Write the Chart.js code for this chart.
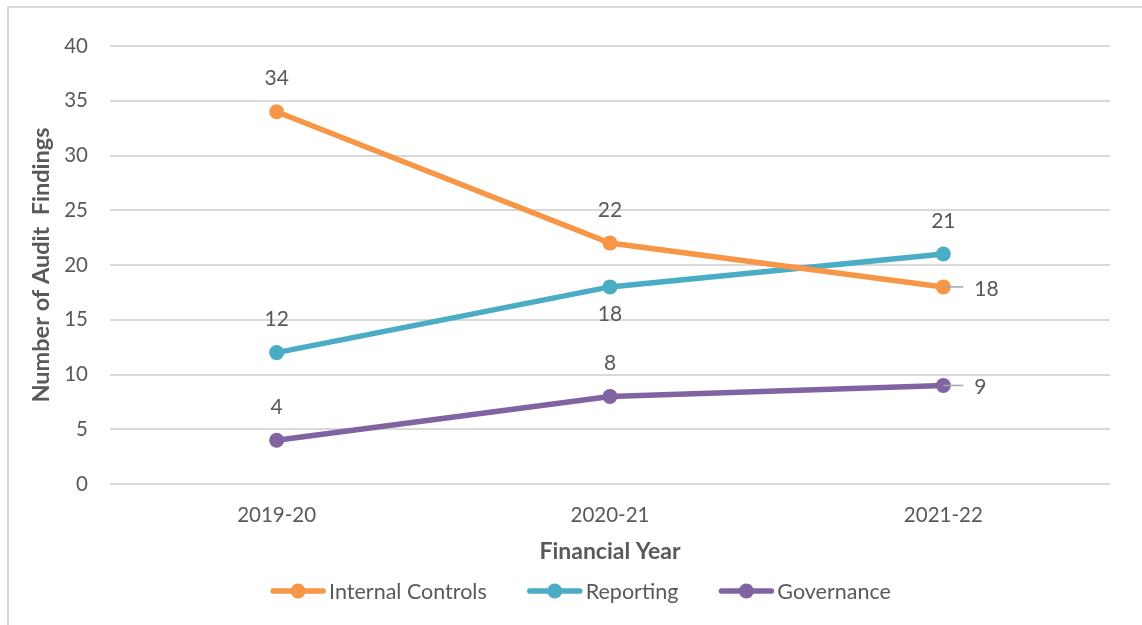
<!DOCTYPE html>
<html>
<head>
<meta charset="utf-8">
<script src="https://cdn.jsdelivr.net/npm/chart.js@4.4.1/dist/chart.umd.min.js"></script>
<style>
  html, body { margin:0; padding:0; background:#fff; overflow:hidden; }
  #frame { position:absolute; left:7px; top:6px; width:1200px; height:700px;
           border-left:2px solid #d9d9d9; border-top:2px solid #d9d9d9; }
  #wrap { position:absolute; left:0; top:0; width:1142px; height:625px; }
</style>
</head>
<body>
<div id="frame"></div>
<div id="wrap"><canvas id="chart"></canvas></div>
<script>
// ---- 데이터 ----
const years = ['2019-20', '2020-21', '2021-22'];
const internalControls = [34, 22, 18];
const reporting = [12, 18, 21];
const governance = [4, 8, 9];
const yTicks = [0, 5, 10, 15, 20, 25, 30, 35, 40];

// 라벨 위치 (스타일)
const posInternal = ['top', 'top', 'right'];
const posReporting = ['top', 'bottom', 'top'];
const posGovernance = ['top', 'top', 'right'];

const TXT = '#595959';
const FONT = 'Lato, "Open Sans", sans-serif';

const mk = (label, data, color, pos) => ({
  label, data, pos,
  borderColor: color, backgroundColor: color,
  borderWidth: 5.5, pointRadius: 7.5, pointHoverRadius: 7.5,
  pointBorderWidth: 0, tension: 0
});

// ---- 데이터 라벨 ----
const labelPlugin = {
  id: 'labels',
  afterDatasetsDraw(chart){
    const ctx = chart.ctx;
    ctx.save();
    ctx.font = `21px ${FONT}`;
    ctx.fillStyle = TXT;
    chart.data.datasets.forEach((ds, i) => {
      chart.getDatasetMeta(i).data.forEach((pt, j) => {
        const p = ds.pos[j];
        const txt = String(ds.data[j]);
        if (p === 'right'){
          ctx.strokeStyle = '#a6a6a6'; ctx.lineWidth = 1.5;
          ctx.beginPath(); ctx.moveTo(pt.x, pt.y); ctx.lineTo(pt.x + 20, pt.y); ctx.stroke();
          ctx.textAlign = 'left'; ctx.textBaseline = 'middle';
          ctx.fillText(txt, pt.x + 31, pt.y + 2);
        } else {
          ctx.textAlign = 'center'; ctx.textBaseline = 'middle';
          ctx.fillText(txt, pt.x, p === 'top' ? pt.y - 33 : pt.y + 27);
        }
      });
    });
    ctx.restore();
  }
};

// ---- 범례 (선+점) ----
const legendPlugin = {
  id: 'lineLegend',
  afterDraw(chart){
    const ctx = chart.ctx;
    ctx.save();
    ctx.font = `21.5px ${FONT}`;
    const lineW = 54, gapT = 4, gapI = 41;
    const items = chart.data.datasets.map(d => ({d, w: lineW + gapT + ctx.measureText(d.label).width}));
    const total = items.reduce((s, it) => s + it.w, 0) + gapI * (items.length - 1);
    let x = (chart.width - total) / 2 + 10;
    const y = 591;
    items.forEach(it => {
      ctx.strokeStyle = it.d.borderColor; ctx.lineWidth = 5.5; ctx.lineCap = 'round';
      ctx.beginPath(); ctx.moveTo(x + 2, y); ctx.lineTo(x + lineW - 2, y); ctx.stroke();
      ctx.fillStyle = it.d.borderColor;
      ctx.beginPath(); ctx.arc(x + lineW / 2, y, 7.5, 0, Math.PI * 2); ctx.fill();
      ctx.fillStyle = TXT; ctx.textAlign = 'left'; ctx.textBaseline = 'middle';
      ctx.fillText(it.d.label, x + lineW + gapT, y + 1);
      x += it.w + gapI;
    });
    ctx.restore();
  }
};

new Chart(document.getElementById('chart'), {
  type: 'line',
  data: {
    labels: years,
    datasets: [
      mk('Internal Controls', internalControls, '#f79646', posInternal),
      mk('Reporting', reporting, '#4bacc6', posReporting),
      mk('Governance', governance, '#8064a2', posGovernance)
    ]
  },
  options: {
    responsive: true,
    maintainAspectRatio: false,
    animation: false,
    layout: { padding: { left: 27, right: 32, top: 46, bottom: 60 } },
    plugins: { legend: { display: false }, tooltip: { enabled: false } },
    scales: {
      x: {
        offset: true,
        afterFit: s => { s.height = 81; },
        grid: { display: false, drawTicks: false },
        border: { display: false },
        ticks: { color: TXT, font: { family: FONT, size: 20.5 }, padding: 19 },
        title: { display: true, text: 'Financial Year', color: TXT,
                 font: { family: FONT, size: 23, weight: 'bold' }, padding: 0 }
      },
      y: {
        min: 0, max: 40,
        afterBuildTicks: s => { s.ticks = yTicks.map(v => ({ value: v })); },
        afterFit: s => { s.width = 83; },
        grid: { color: '#d9d9d9', lineWidth: 2, drawTicks: false },
        border: { display: false },
        ticks: { color: TXT, font: { family: FONT, size: 20.5 }, padding: 22 },
        title: { display: true, text: 'Number of Audit  Findings', color: TXT,
                 font: { family: FONT, size: 23.5, weight: 'bold' }, padding: 0 }
      }
    }
  },
  plugins: [labelPlugin, legendPlugin]
});
</script>
</body>
</html>
